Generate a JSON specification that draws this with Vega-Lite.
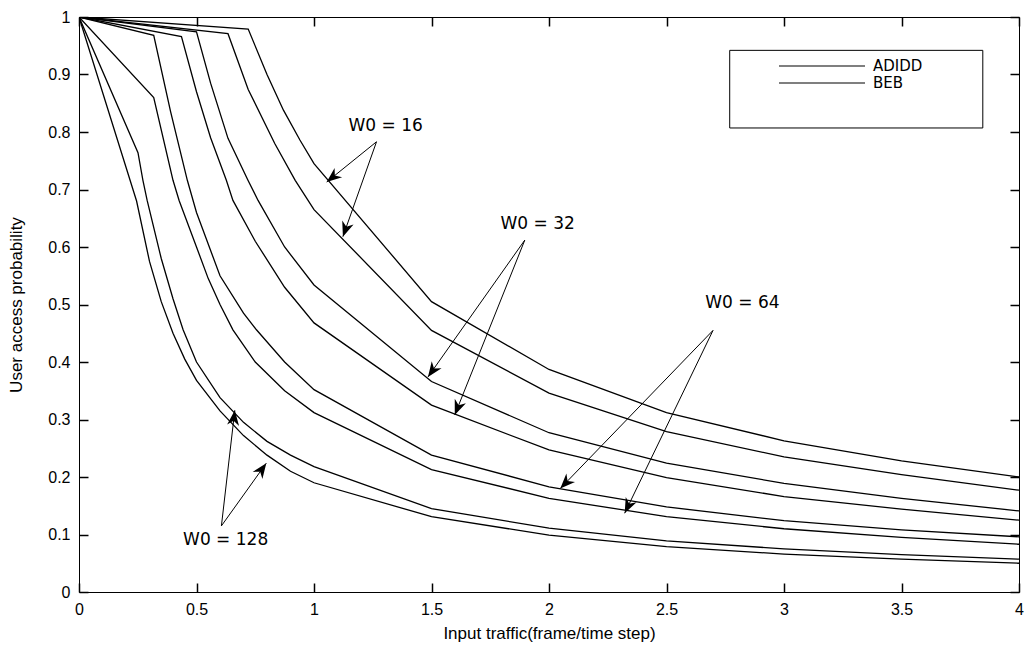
{
  "$schema": "https://vega.github.io/schema/vega-lite/v6.json",
  "width": 940,
  "height": 575,
  "autosize": {"type": "none"},
  "padding": {"left": 79, "top": 17, "right": 10, "bottom": 53},
  "background": "white",
  "config": {
    "view": {"stroke": "black", "strokeWidth": 1},
    "font": "Liberation Sans",
    "axis": {
      "grid": false,
      "domain": false,
      "labelColor": "black",
      "titleColor": "black",
      "titleFontWeight": "normal"
    }
  },
  "datasets": {
    "curves": [
      {"w0": 16, "method": "ADIDD", "traffic": 0, "prob": 1},
      {"w0": 16, "method": "ADIDD", "traffic": 0.72, "prob": 0.979},
      {"w0": 16, "method": "ADIDD", "traffic": 0.8, "prob": 0.9},
      {"w0": 16, "method": "ADIDD", "traffic": 0.87, "prob": 0.838},
      {"w0": 16, "method": "ADIDD", "traffic": 0.94, "prob": 0.786},
      {"w0": 16, "method": "ADIDD", "traffic": 1, "prob": 0.745},
      {"w0": 16, "method": "ADIDD", "traffic": 1.5, "prob": 0.505},
      {"w0": 16, "method": "ADIDD", "traffic": 2, "prob": 0.387},
      {"w0": 16, "method": "ADIDD", "traffic": 2.5, "prob": 0.312},
      {"w0": 16, "method": "ADIDD", "traffic": 3, "prob": 0.263},
      {"w0": 16, "method": "ADIDD", "traffic": 3.5, "prob": 0.228},
      {"w0": 16, "method": "ADIDD", "traffic": 4, "prob": 0.2},

      {"w0": 16, "method": "BEB", "traffic": 0, "prob": 1},
      {"w0": 16, "method": "BEB", "traffic": 0.634, "prob": 0.971},
      {"w0": 16, "method": "BEB", "traffic": 0.72, "prob": 0.874},
      {"w0": 16, "method": "BEB", "traffic": 0.833, "prob": 0.78},
      {"w0": 16, "method": "BEB", "traffic": 0.92, "prob": 0.716},
      {"w0": 16, "method": "BEB", "traffic": 1, "prob": 0.665},
      {"w0": 16, "method": "BEB", "traffic": 1.5, "prob": 0.455},
      {"w0": 16, "method": "BEB", "traffic": 2, "prob": 0.346},
      {"w0": 16, "method": "BEB", "traffic": 2.5, "prob": 0.279},
      {"w0": 16, "method": "BEB", "traffic": 3, "prob": 0.235},
      {"w0": 16, "method": "BEB", "traffic": 3.5, "prob": 0.204},
      {"w0": 16, "method": "BEB", "traffic": 4, "prob": 0.177},

      {"w0": 32, "method": "ADIDD", "traffic": 0, "prob": 1},
      {"w0": 32, "method": "ADIDD", "traffic": 0.5, "prob": 0.974},
      {"w0": 32, "method": "ADIDD", "traffic": 0.56, "prob": 0.885},
      {"w0": 32, "method": "ADIDD", "traffic": 0.634, "prob": 0.789},
      {"w0": 32, "method": "ADIDD", "traffic": 0.719, "prob": 0.716},
      {"w0": 32, "method": "ADIDD", "traffic": 0.762, "prob": 0.681},
      {"w0": 32, "method": "ADIDD", "traffic": 0.875, "prob": 0.6},
      {"w0": 32, "method": "ADIDD", "traffic": 1, "prob": 0.534},
      {"w0": 32, "method": "ADIDD", "traffic": 1.5, "prob": 0.366},
      {"w0": 32, "method": "ADIDD", "traffic": 2, "prob": 0.277},
      {"w0": 32, "method": "ADIDD", "traffic": 2.5, "prob": 0.224},
      {"w0": 32, "method": "ADIDD", "traffic": 3, "prob": 0.189},
      {"w0": 32, "method": "ADIDD", "traffic": 3.5, "prob": 0.163},
      {"w0": 32, "method": "ADIDD", "traffic": 4, "prob": 0.141},

      {"w0": 32, "method": "BEB", "traffic": 0, "prob": 1},
      {"w0": 32, "method": "BEB", "traffic": 0.436, "prob": 0.966},
      {"w0": 32, "method": "BEB", "traffic": 0.5, "prob": 0.87},
      {"w0": 32, "method": "BEB", "traffic": 0.56, "prob": 0.79},
      {"w0": 32, "method": "BEB", "traffic": 0.627, "prob": 0.716},
      {"w0": 32, "method": "BEB", "traffic": 0.655, "prob": 0.681},
      {"w0": 32, "method": "BEB", "traffic": 0.75, "prob": 0.61},
      {"w0": 32, "method": "BEB", "traffic": 0.875, "prob": 0.53},
      {"w0": 32, "method": "BEB", "traffic": 1, "prob": 0.468},
      {"w0": 32, "method": "BEB", "traffic": 1.5, "prob": 0.325},
      {"w0": 32, "method": "BEB", "traffic": 2, "prob": 0.247},
      {"w0": 32, "method": "BEB", "traffic": 2.5, "prob": 0.199},
      {"w0": 32, "method": "BEB", "traffic": 3, "prob": 0.166},
      {"w0": 32, "method": "BEB", "traffic": 3.5, "prob": 0.144},
      {"w0": 32, "method": "BEB", "traffic": 4, "prob": 0.125},

      {"w0": 64, "method": "ADIDD", "traffic": 0, "prob": 1},
      {"w0": 64, "method": "ADIDD", "traffic": 0.318, "prob": 0.968},
      {"w0": 64, "method": "ADIDD", "traffic": 0.39, "prob": 0.835},
      {"w0": 64, "method": "ADIDD", "traffic": 0.461, "prob": 0.716},
      {"w0": 64, "method": "ADIDD", "traffic": 0.5, "prob": 0.66},
      {"w0": 64, "method": "ADIDD", "traffic": 0.6, "prob": 0.55},
      {"w0": 64, "method": "ADIDD", "traffic": 0.7, "prob": 0.485},
      {"w0": 64, "method": "ADIDD", "traffic": 0.755, "prob": 0.456},
      {"w0": 64, "method": "ADIDD", "traffic": 0.875, "prob": 0.4},
      {"w0": 64, "method": "ADIDD", "traffic": 1, "prob": 0.352},
      {"w0": 64, "method": "ADIDD", "traffic": 1.5, "prob": 0.238},
      {"w0": 64, "method": "ADIDD", "traffic": 2, "prob": 0.183},
      {"w0": 64, "method": "ADIDD", "traffic": 2.5, "prob": 0.148},
      {"w0": 64, "method": "ADIDD", "traffic": 3, "prob": 0.124},
      {"w0": 64, "method": "ADIDD", "traffic": 3.5, "prob": 0.108},
      {"w0": 64, "method": "ADIDD", "traffic": 4, "prob": 0.096},

      {"w0": 64, "method": "BEB", "traffic": 0, "prob": 1},
      {"w0": 64, "method": "BEB", "traffic": 0.318, "prob": 0.86},
      {"w0": 64, "method": "BEB", "traffic": 0.4, "prob": 0.716},
      {"w0": 64, "method": "BEB", "traffic": 0.426, "prob": 0.681},
      {"w0": 64, "method": "BEB", "traffic": 0.5, "prob": 0.6},
      {"w0": 64, "method": "BEB", "traffic": 0.55, "prob": 0.545},
      {"w0": 64, "method": "BEB", "traffic": 0.6, "prob": 0.5},
      {"w0": 64, "method": "BEB", "traffic": 0.655, "prob": 0.456},
      {"w0": 64, "method": "BEB", "traffic": 0.75, "prob": 0.4},
      {"w0": 64, "method": "BEB", "traffic": 0.875, "prob": 0.35},
      {"w0": 64, "method": "BEB", "traffic": 1, "prob": 0.312},
      {"w0": 64, "method": "BEB", "traffic": 1.5, "prob": 0.213},
      {"w0": 64, "method": "BEB", "traffic": 2, "prob": 0.163},
      {"w0": 64, "method": "BEB", "traffic": 2.5, "prob": 0.131},
      {"w0": 64, "method": "BEB", "traffic": 3, "prob": 0.11},
      {"w0": 64, "method": "BEB", "traffic": 3.5, "prob": 0.095},
      {"w0": 64, "method": "BEB", "traffic": 4, "prob": 0.083},

      {"w0": 128, "method": "ADIDD", "traffic": 0, "prob": 1},
      {"w0": 128, "method": "ADIDD", "traffic": 0.251, "prob": 0.764},
      {"w0": 128, "method": "ADIDD", "traffic": 0.272, "prob": 0.716},
      {"w0": 128, "method": "ADIDD", "traffic": 0.29, "prob": 0.681},
      {"w0": 128, "method": "ADIDD", "traffic": 0.35, "prob": 0.58},
      {"w0": 128, "method": "ADIDD", "traffic": 0.4, "prob": 0.51},
      {"w0": 128, "method": "ADIDD", "traffic": 0.443, "prob": 0.456},
      {"w0": 128, "method": "ADIDD", "traffic": 0.5, "prob": 0.4},
      {"w0": 128, "method": "ADIDD", "traffic": 0.6, "prob": 0.338},
      {"w0": 128, "method": "ADIDD", "traffic": 0.7, "prob": 0.295},
      {"w0": 128, "method": "ADIDD", "traffic": 0.8, "prob": 0.262},
      {"w0": 128, "method": "ADIDD", "traffic": 0.9, "prob": 0.238},
      {"w0": 128, "method": "ADIDD", "traffic": 1, "prob": 0.218},
      {"w0": 128, "method": "ADIDD", "traffic": 1.5, "prob": 0.145},
      {"w0": 128, "method": "ADIDD", "traffic": 2, "prob": 0.111},
      {"w0": 128, "method": "ADIDD", "traffic": 2.5, "prob": 0.089},
      {"w0": 128, "method": "ADIDD", "traffic": 3, "prob": 0.075},
      {"w0": 128, "method": "ADIDD", "traffic": 3.5, "prob": 0.065},
      {"w0": 128, "method": "ADIDD", "traffic": 4, "prob": 0.057},

      {"w0": 128, "method": "BEB", "traffic": 0, "prob": 1},
      {"w0": 128, "method": "BEB", "traffic": 0.245, "prob": 0.68},
      {"w0": 128, "method": "BEB", "traffic": 0.3, "prob": 0.575},
      {"w0": 128, "method": "BEB", "traffic": 0.35, "prob": 0.505},
      {"w0": 128, "method": "BEB", "traffic": 0.4, "prob": 0.45},
      {"w0": 128, "method": "BEB", "traffic": 0.45, "prob": 0.405},
      {"w0": 128, "method": "BEB", "traffic": 0.5, "prob": 0.368},
      {"w0": 128, "method": "BEB", "traffic": 0.6, "prob": 0.315},
      {"w0": 128, "method": "BEB", "traffic": 0.7, "prob": 0.272},
      {"w0": 128, "method": "BEB", "traffic": 0.8, "prob": 0.238},
      {"w0": 128, "method": "BEB", "traffic": 0.9, "prob": 0.21},
      {"w0": 128, "method": "BEB", "traffic": 1, "prob": 0.19},
      {"w0": 128, "method": "BEB", "traffic": 1.5, "prob": 0.131},
      {"w0": 128, "method": "BEB", "traffic": 2, "prob": 0.099},
      {"w0": 128, "method": "BEB", "traffic": 2.5, "prob": 0.079},
      {"w0": 128, "method": "BEB", "traffic": 3, "prob": 0.066},
      {"w0": 128, "method": "BEB", "traffic": 3.5, "prob": 0.057},
      {"w0": 128, "method": "BEB", "traffic": 4, "prob": 0.05}
    ],
    "arrows": [
      {"head": "16a", "traffic": 1.266, "prob": 0.783, "tipTraffic": 1.054, "tipProb": 0.713},
      {"head": "16b", "traffic": 1.266, "prob": 0.783, "tipTraffic": 1.123, "tipProb": 0.618},
      {"head": "32a", "traffic": 1.897, "prob": 0.612, "tipTraffic": 1.485, "tipProb": 0.374},
      {"head": "32b", "traffic": 1.897, "prob": 0.612, "tipTraffic": 1.599, "tipProb": 0.308},
      {"head": "64a", "traffic": 2.698, "prob": 0.455, "tipTraffic": 2.048, "tipProb": 0.18},
      {"head": "64b", "traffic": 2.698, "prob": 0.455, "tipTraffic": 2.322, "tipProb": 0.137},
      {"head": "128a", "traffic": 0.606, "prob": 0.115, "tipTraffic": 0.663, "tipProb": 0.316},
      {"head": "128b", "traffic": 0.606, "prob": 0.115, "tipTraffic": 0.797, "tipProb": 0.224}
    ],
    "labels": [
      {"label": "W0 = 16", "traffic": 1.305, "prob": 0.81},
      {"label": "W0 = 32", "traffic": 1.952, "prob": 0.64},
      {"label": "W0 = 64", "traffic": 2.823, "prob": 0.502},
      {"label": "W0 = 128", "traffic": 0.624, "prob": 0.09}
    ],
    "legendbox": [
      {"traffic": 2.769, "prob": 0.942, "traffic2": 3.846, "prob2": 0.807}
    ]
  },
  "layer": [
    {
      "data": {"name": "curves"},
      "mark": {"type": "line", "strokeWidth": 1.3, "clip": true},
      "encoding": {
        "x": {
          "field": "traffic", "type": "quantitative",
          "scale": {"domain": [0, 4], "nice": false, "zero": false},
          "axis": {
            "orient": "bottom",
            "values": [0, 0.5, 1, 1.5, 2, 2.5, 3, 3.5, 4],
            "format": "~g",
            "ticks": true,
            "tickColor": "black",
            "tickWidth": 1.5,
            "tickSize": -9,
            "labelFont": "Liberation Sans",
            "labelFontSize": 16,
            "labelPadding": 18,
            "labelFlush": false,
            "title": "Input traffic(frame/time step)",
            "titleFont": "Liberation Sans",
            "titleFontSize": 17,
            "titlePadding": 8
          }
        },
        "y": {
          "field": "prob", "type": "quantitative",
          "scale": {"domain": [0, 1], "nice": false, "zero": false},
          "axis": {
            "orient": "left",
            "values": [0, 0.1, 0.2, 0.3, 0.4, 0.5, 0.6, 0.7, 0.8, 0.9, 1],
            "format": "~g",
            "ticks": true,
            "tickColor": "black",
            "tickWidth": 1.5,
            "tickSize": -9,
            "labelFont": "Liberation Sans",
            "labelFontSize": 16,
            "labelPadding": 18,
            "labelFlush": false,
            "title": "User access probability",
            "titleFont": "Liberation Sans",
            "titleFontSize": 17,
            "titlePadding": 22
          }
        },
        "detail": {"field": "w0", "type": "nominal"},
        "color": {
          "field": "method", "type": "nominal",
          "scale": {"domain": ["ADIDD", "BEB"], "range": ["black", "black"]},
          "legend": {
            "title": null,
            "orient": "none",
            "legendX": 699,
            "legendY": 42,
            "symbolType": "stroke",
            "symbolSize": 7400,
            "symbolStrokeWidth": 1.2,
            "clipHeight": 14,
            "rowPadding": 2,
            "labelOffset": 7,
            "labelFont": "DejaVu Sans",
            "labelFontSize": 15,
            "labelColor": "black",
            "padding": 0
          }
        }
      }
    },
    {
      "data": {"name": "legendbox"},
      "mark": {"type": "rect", "fill": "white", "stroke": "black", "strokeWidth": 1},
      "encoding": {
        "x": {
          "field": "traffic", "type": "quantitative",
          "scale": {"domain": [0, 4], "nice": false, "zero": false},
          "axis": {"orient": "top", "values": [0, 0.5, 1, 1.5, 2, 2.5, 3, 3.5, 4], "ticks": true, "tickColor": "black", "tickWidth": 1.5, "tickSize": -9, "labels": false, "title": null}
        },
        "x2": {"field": "traffic2"},
        "y": {
          "field": "prob", "type": "quantitative",
          "scale": {"domain": [0, 1], "nice": false, "zero": false},
          "axis": {"orient": "right", "values": [0, 0.1, 0.2, 0.3, 0.4, 0.5, 0.6, 0.7, 0.8, 0.9, 1], "ticks": true, "tickColor": "black", "tickWidth": 1.5, "tickSize": -9, "labels": false, "title": null}
        },
        "y2": {"field": "prob2"}
      }
    },
    {
      "data": {"name": "arrows"},
      "mark": {"type": "rule", "color": "black", "strokeWidth": 1},
      "encoding": {
        "x": {"field": "traffic", "type": "quantitative", "scale": {"domain": [0, 4], "nice": false, "zero": false}, "axis": null},
        "y": {"field": "prob", "type": "quantitative", "scale": {"domain": [0, 1], "nice": false, "zero": false}, "axis": null},
        "x2": {"field": "tipTraffic"},
        "y2": {"field": "tipProb"}
      }
    },
    {
      "data": {"name": "arrows"},
      "mark": {"type": "point", "shape": "M0,0L-1,-0.4L-0.7,0L-1,0.4Z", "filled": true, "color": "black", "opacity": 1, "size": 900, "strokeWidth": 0},
      "encoding": {
        "x": {"field": "tipTraffic", "type": "quantitative", "scale": {"domain": [0, 4], "nice": false, "zero": false}, "axis": null},
        "y": {"field": "tipProb", "type": "quantitative", "scale": {"domain": [0, 1], "nice": false, "zero": false}, "axis": null},
        "angle": {
          "field": "head", "type": "nominal",
          "scale": {
            "type": "ordinal",
            "domain": ["16a", "16b", "32a", "32b", "64a", "64b", "128a", "128b"],
            "range": [141, 109.4, 125.3, 111.8, 134, 115.7, 276.5, 305.7]
          },
          "legend": null
        }
      }
    },
    {
      "data": {"name": "labels"},
      "mark": {"type": "text", "font": "DejaVu Sans", "fontSize": 17, "color": "black", "align": "center", "baseline": "middle"},
      "encoding": {
        "x": {"field": "traffic", "type": "quantitative", "scale": {"domain": [0, 4], "nice": false, "zero": false}, "axis": null},
        "y": {"field": "prob", "type": "quantitative", "scale": {"domain": [0, 1], "nice": false, "zero": false}, "axis": null},
        "text": {"field": "label", "type": "nominal"}
      }
    }
  ],
  "resolve": {"axis": {"x": "independent", "y": "independent"}}
}
